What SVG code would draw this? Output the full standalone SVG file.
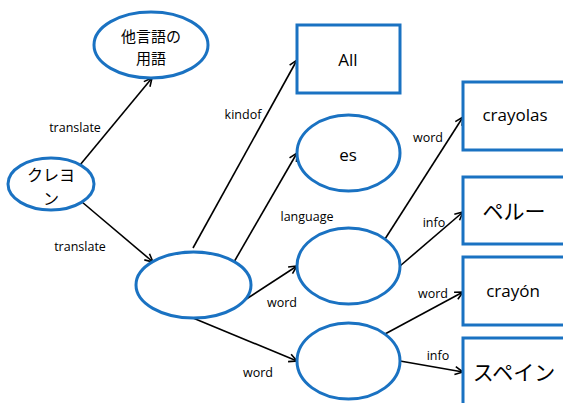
<svg xmlns="http://www.w3.org/2000/svg" width="563" height="403" viewBox="0 0 563 403">
<style>
.n{fill:#fff;stroke:#1a72c2;stroke-width:3}
.t{font-family:"Open Sans","Liberation Sans",sans-serif;font-size:17px;fill:#000;text-anchor:middle}
.j{font-family:"Noto Sans CJK JP","Liberation Sans",sans-serif;fill:#000;text-anchor:middle}
.l{font-family:"Open Sans","Liberation Sans",sans-serif;font-size:12.5px;fill:#000;text-anchor:middle}
.c{stroke:#000;stroke-width:1.6;fill:none;marker-end:url(#a)}
</style>
<defs>
<marker id="a" viewBox="0 0 10 10" refX="9" refY="5" markerWidth="10" markerHeight="10" markerUnits="userSpaceOnUse" orient="auto">
<path d="M1,1 L9,5 L1,9" fill="none" stroke="#000" stroke-width="1.6"/>
</marker>
</defs>
<rect width="563" height="403" fill="#fff"/>
<g id="connectors">
<line class="c" x1="80" y1="165" x2="152" y2="78"/>
<line class="c" x1="82" y1="202" x2="153" y2="262"/>
<line class="c" x1="193" y1="248" x2="297" y2="60"/>
<line class="c" x1="234" y1="262" x2="297" y2="153"/>
<line class="c" x1="234" y1="307" x2="297" y2="266"/>
<line class="c" x1="193" y1="318" x2="297" y2="361"/>
<line class="c" x1="385" y1="239" x2="463" y2="117"/>
<line class="c" x1="400" y1="266" x2="463" y2="212"/>
<line class="c" x1="385" y1="334" x2="463" y2="292"/>
<line class="c" x1="400" y1="361" x2="463" y2="372"/>
<text class="l" x="75" y="132">translate</text>
<text class="l" x="80" y="251">translate</text>
<text class="l" x="243" y="119">kindof</text>
<text class="l" x="307" y="221">language</text>
<text class="l" x="282" y="307">word</text>
<text class="l" x="258" y="377">word</text>
<text class="l" x="428" y="142">word</text>
<text class="l" x="434" y="227">info</text>
<text class="l" x="433" y="298">word</text>
<text class="l" x="438" y="360">info</text>
</g>
<g id="n-other"><ellipse class="n" cx="151" cy="45" rx="57" ry="33"/><text class="j" font-size="15" x="151" y="42">他言語の</text><text class="j" font-size="15" x="151" y="64">用語</text></g>
<g id="n-crayon"><ellipse class="n" cx="51" cy="184" rx="43" ry="26"/><text class="j" font-size="16" x="51" y="181">クレヨ</text><text class="j" font-size="16" x="51" y="205">ン</text></g>
<g id="n-all"><rect class="n" x="297" y="25" width="103" height="68"/><text class="t" x="348" y="66">All</text></g>
<g id="n-es"><ellipse class="n" cx="348.5" cy="153" rx="51.5" ry="38"/><text class="t" x="348" y="161">es</text></g>
<g id="n-mid"><ellipse class="n" cx="193.5" cy="285" rx="57.5" ry="33"/></g>
<g id="n-e3"><ellipse class="n" cx="348.5" cy="266" rx="51.5" ry="38"/></g>
<g id="n-e4"><ellipse class="n" cx="348.5" cy="361" rx="51.5" ry="38"/></g>
<g id="n-crayolas"><rect class="n" x="463" y="82" width="104" height="68"/><text class="t" x="515" y="121">crayolas</text></g>
<g id="n-peru"><rect class="n" x="463" y="177" width="104" height="67"/><text class="j" font-size="21" x="514" y="219">ペルー</text></g>
<g id="n-crayon-es"><rect class="n" x="463" y="257" width="104" height="68"/><text class="t" x="513" y="297">crayón</text></g>
<g id="n-spain"><rect class="n" x="463" y="338" width="104" height="68"/><text class="j" font-size="21" x="514" y="380">スペイン</text></g>
</svg>
